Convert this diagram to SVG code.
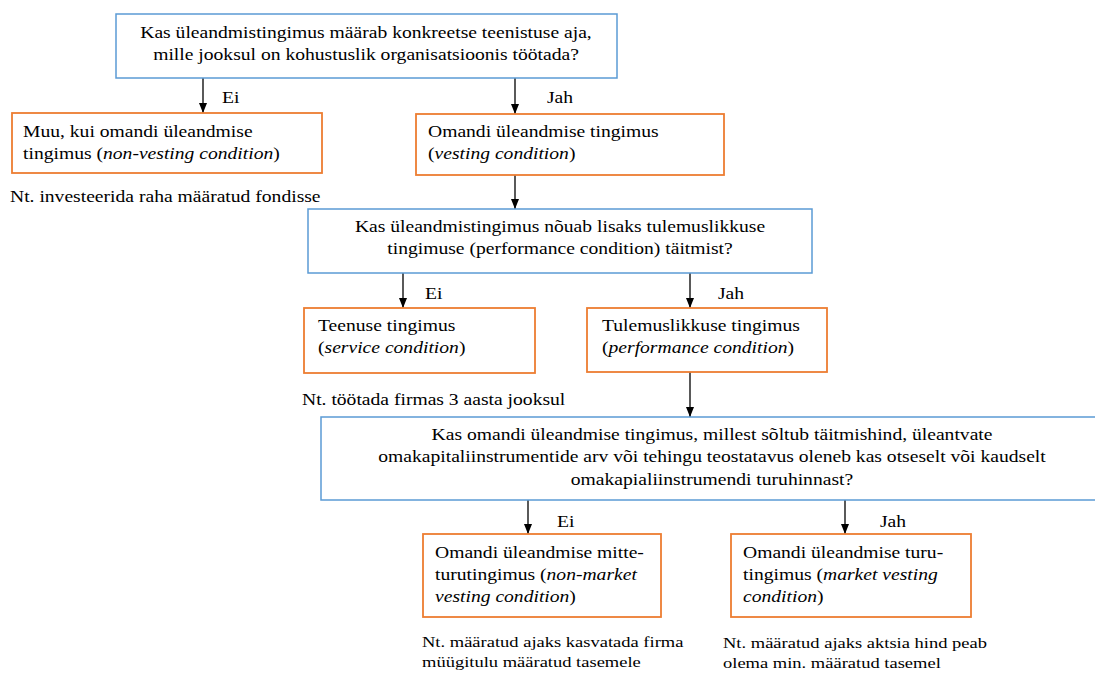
<svg xmlns="http://www.w3.org/2000/svg" width="1095" height="673" viewBox="0 0 1095 673" font-family="'Liberation Serif', 'Times New Roman', 'DejaVu Serif', serif" font-size="16.2">
<defs>
<style>
.i{font-style:italic}
.m{text-anchor:middle}
.s{font-size:15.3px}
.q{fill:#fff;stroke:#5b9bd5;stroke-width:1.5}
.a{fill:#fff;stroke:#ed7d31;stroke-width:1.8}
.c{stroke:#000;stroke-width:1.3;fill:none;marker-end:url(#ah)}
</style>
<marker id="ah" viewBox="0 0 10 10" refX="10" refY="5" markerWidth="10" markerHeight="8" markerUnits="userSpaceOnUse" orient="auto" preserveAspectRatio="none"><path d="M0,0 L10,5 L0,10 z" fill="#000"/></marker>
</defs>
<rect width="1095" height="673" fill="#fff"/>

<g id="connectors">
<line class="c" x1="203" y1="78" x2="203" y2="113"/>
<line class="c" x1="515" y1="78" x2="515" y2="114"/>
<line class="c" x1="515" y1="175" x2="515" y2="209"/>
<line class="c" x1="403" y1="273" x2="403" y2="308"/>
<line class="c" x1="690" y1="273" x2="690" y2="308"/>
<line class="c" x1="690" y1="372" x2="690" y2="417"/>
<line class="c" x1="528" y1="500" x2="528" y2="534"/>
<line class="c" x1="845" y1="500" x2="845" y2="534"/>
<text transform="matrix(1.21 0 0 1 222 103)">Ei</text>
<text transform="matrix(1.21 0 0 1 547 103)">Jah</text>
<text transform="matrix(1.21 0 0 1 425 299)">Ei</text>
<text transform="matrix(1.21 0 0 1 718 299)">Jah</text>
<text transform="matrix(1.21 0 0 1 557 527)">Ei</text>
<text transform="matrix(1.21 0 0 1 880 527)">Jah</text>
</g>

<g id="q1">
<rect class="q" x="116" y="14" width="501" height="64"/>
<text class="m" transform="matrix(1.21 0 0 1 366 38)"><tspan x="0">Kas üleandmistingimus määrab konkreetse teenistuse aja,</tspan><tspan x="0" dy="22">mille jooksul on kohustuslik organisatsioonis töötada?</tspan></text>
</g>

<g id="non-vesting">
<rect class="a" x="12" y="113" width="310" height="60"/>
<text transform="matrix(1.21 0 0 1 23 137)"><tspan x="0">Muu, kui omandi üleandmise</tspan><tspan x="0" dy="22">tingimus (<tspan class="i">non-vesting condition</tspan>)</tspan></text>
</g>
<g id="note-non-vesting">
<text transform="matrix(1.21 0 0 1 10 202)">Nt. investeerida raha määratud fondisse</text>
</g>

<g id="vesting">
<rect class="a" x="416" y="114" width="308" height="61"/>
<text transform="matrix(1.21 0 0 1 428 137)"><tspan x="0">Omandi üleandmise tingimus</tspan><tspan x="0" dy="22">(<tspan class="i">vesting condition</tspan>)</tspan></text>
</g>

<g id="q2">
<rect class="q" x="308" y="209" width="504" height="64"/>
<text class="m" transform="matrix(1.21 0 0 1 560 232)"><tspan x="0">Kas üleandmistingimus nõuab lisaks tulemuslikkuse</tspan><tspan x="0" dy="22">tingimuse (performance condition) täitmist?</tspan></text>
</g>

<g id="service">
<rect class="a" x="304" y="308" width="231" height="65"/>
<text transform="matrix(1.21 0 0 1 318 331)"><tspan x="0">Teenuse tingimus</tspan><tspan x="0" dy="22">(<tspan class="i">service condition</tspan>)</tspan></text>
</g>
<g id="note-service">
<text transform="matrix(1.21 0 0 1 302 405)">Nt. töötada firmas 3 aasta jooksul</text>
</g>

<g id="performance">
<rect class="a" x="587" y="308" width="240" height="64"/>
<text transform="matrix(1.21 0 0 1 602 331)"><tspan x="0">Tulemuslikkuse tingimus</tspan><tspan x="0" dy="22">(<tspan class="i">performance condition</tspan>)</tspan></text>
</g>

<g id="q3">
<rect class="q" x="321" y="417" width="782" height="83"/>
<text class="m" transform="matrix(1.21 0 0 1 712 440)"><tspan x="0">Kas omandi üleandmise tingimus, millest sõltub täitmishind, üleantvate</tspan><tspan x="0" dy="22.5">omakapitaliinstrumentide arv või tehingu teostatavus oleneb kas otseselt või kaudselt</tspan><tspan x="0" dy="22.5">omakapialiinstrumendi turuhinnast?</tspan></text>
</g>

<g id="non-market">
<rect class="a" x="423" y="534" width="238" height="83"/>
<text transform="matrix(1.21 0 0 1 435 558)"><tspan x="0">Omandi üleandmise mitte-</tspan><tspan x="0" dy="22">turutingimus (<tspan class="i">non-market</tspan></tspan><tspan x="0" dy="22"><tspan class="i">vesting condition</tspan>)</tspan></text>
</g>
<g id="note-non-market">
<text class="s" transform="matrix(1.21 0 0 1 422 647)"><tspan x="0">Nt. määratud ajaks kasvatada firma</tspan><tspan x="0" dy="20">müügitulu määratud tasemele</tspan></text>
</g>

<g id="market">
<rect class="a" x="731" y="534" width="240" height="83"/>
<text transform="matrix(1.21 0 0 1 743 558)"><tspan x="0">Omandi üleandmise turu-</tspan><tspan x="0" dy="22">tingimus (<tspan class="i">market vesting</tspan></tspan><tspan x="0" dy="22"><tspan class="i">condition</tspan>)</tspan></text>
</g>
<g id="note-market">
<text class="s" transform="matrix(1.21 0 0 1 723 648)"><tspan x="0">Nt. määratud ajaks aktsia hind peab</tspan><tspan x="0" dy="20">olema min. määratud tasemel</tspan></text>
</g>
</svg>
